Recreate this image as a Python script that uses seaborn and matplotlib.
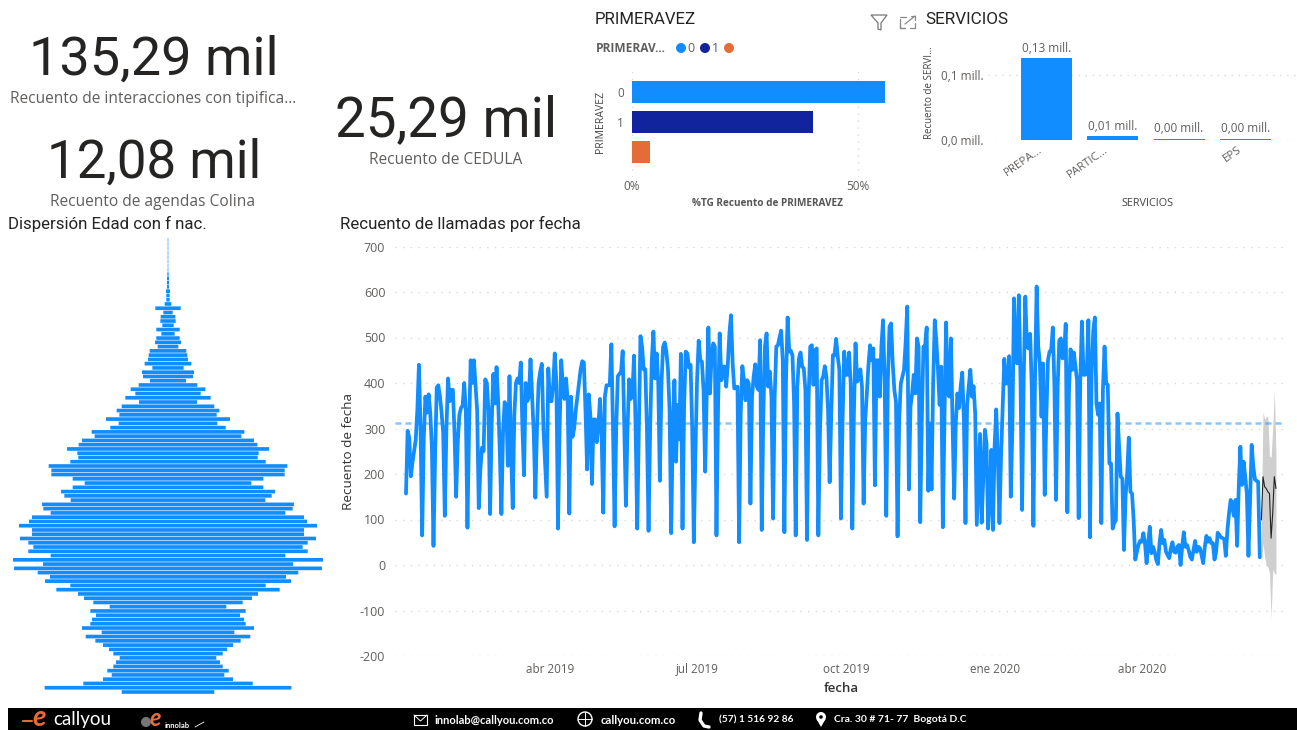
import matplotlib
matplotlib.use("Agg")
import matplotlib.pyplot as plt
from matplotlib.patches import Polygon, Rectangle, Circle
import seaborn as sns
import pandas as pd
import numpy as np

sns.set_theme(style="white")
plt.rcParams['font.family'] = ['Open Sans', 'DejaVu Sans']

W, H = 1297, 730
BLUE, NAVY, ORANGE = '#118DFF', '#12239E', '#E66C37'
DARK, GREY = '#252423', '#605E5C'
HEAD = 'Roboto'

# ---------- data ----------
kpi_interacciones = "135,29 mil"
kpi_agendas = "12,08 mil"
kpi_cedula = "25,29 mil"

primeravez_cat = ['0', '1', ' ']
primeravez_pct = [56.0, 40.0, 4.0]

servicios_cat = ['PREPA...', 'PARTIC...', ' ', 'EPS']
servicios_val = [0.126, 0.006, 0.002, 0.002]
servicios_lbl = ['0,13 mill.', '0,01 mill.', '0,00 mill.', '0,00 mill.']

# half widths of the centred distribution, top row to bottom row
edad_sup = [1, 1, 1, 1, 1, 1, 1, 1, 2, 3, 3, 3, 6, 5, 5, 10, 38, 14, 22, 23, 17, 35, 20, 35, 39, 31,
            55, 58, 60, 70, 47, 78, 75, 54, 88, 112, 98, 128, 87, 139, 154, 146, 186, 148, 173,
            229, 220, 258, 268, 303, 272, 269]
edad_inf = [293, 358, 350, 350, 286, 250, 286, 321, 311, 292, 378, 374, 352, 408, 417, 447, 408, 408,
            444, 419, 404, 419, 352, 465, 375, 462, 391, 354, 369, 293, 335, 270, 252, 224, 175, 233,
            216, 228, 233, 258, 199, 247, 218, 195, 177, 164, 145, 156, 164, 182, 169, 195, 254, 370, 139]
edad_val = edad_sup + edad_inf

llamadas_inicio = [157, 295, 280, 195, 225, 250, 275, 340, 440, 300, 65]
llamadas_2019_a = [
    280,370,335,375,335,260,42, 240,390,395,370,335,290,108, 300,410,360,385,385,290,150,
    270,330,345,350,400,340,82, 300,450,400,450,395,340,125, 210,258,250,408,400,340,112,
    310,420,355,435,360,250,112, 290,358,350,218,415,250,125, 330,400,410,400,445,300,197,
    400,360,370,452,370,290,148, 300,400,425,442,300,225,150, 432,360,360,395,465,400,80,
    300,450,395,365,410,360,113, 370,282,300,340,370,400,430, 448,445,340,210,375,330,178,
    320,320,270,310,365,280,115, 370,395,395,395,485,300,85, 300,415,420,425,470,300,130,
    300,408,365,375,460,300,80, 300,503,480,430,430,300,75, 300,450,513,410,465,400,185,
    400,480,489,470,430,340,70]
llamadas_2019_b = [
    300,406,227,352,276,464,80, 350,469,465,434,440,300,50, 250,406,493,450,447,385,205,
    377,522,377,460,487,480,65, 350,509,406,436,436,392,440, 509,549,443,388,390,392,50,
    333,437,406,362,406,399,135, 370,414,441,392,385,494,77, 333,480,509,392,425,370,102,
    370,480,483,500,515,450,72, 406,544,469,471,461,355,65, 392,454,467,436,432,385,55,
    370,480,483,396,472,476,65, 290,406,414,437,414,341,182, 333,461,461,497,458,429,102,
    319,469,418,418,467,399,80, 333,487,403,410,430,392,135, 319,377,440,483,450,476,175,
    450,450,370,480,538,406,108, 406,524,531,443,385,359,63, 319,399,414,429,490,568,166,
    348,377,418,377,498,480,94, 319,480,480,522,163,311,166, 400,538,490,429,352,436,83,
    319,533,377,370,498,311,146, 311,377,345,392,423,319,92, 350,392,429,370,393,333,88]
llamadas_2020 = [
    190,288,93,190,297,267,80, 150,253,77,260,342,238,92, 240,350,453,399,399,459,150,
    300,586,450,443,593,414,121, 406,590,480,476,508,390,86, 406,612,480,443,326,443,154,
    326,450,469,471,522,392,143, 392,494,498,454,461,530,116, 380,474,429,467,436,406,103,
    406,535,418,418,421,538,61, 421,515,544,355,330,355,92, 385,480,399,396,223,223,80,
    92,99,333,260,194,190,33, 150,201,280,161,157,99,12, 29,44,53,51,70,48,4,
    48,84,26,40,29,11,2, 48,77,48,55,29,22,15, 37,50,29,27,40,44,0,
    40,72,40,44,33,18,12, 33,53,29,40,37,22,4, 40,64,51,59,48,48,12,
    29,71,66,61,59,57,20, 77,114,143,128,108,143,42, 172,260,176,227,194,157,20,
    140,264,216,188,185,183,17]
llamadas_val = llamadas_inicio + llamadas_2019_a + llamadas_2019_b + llamadas_2020
previsto_val = [99, 194, 172, 168, 161, 157, 59, 114, 194, 168]
previsto_sup = [110, 337, 320, 326, 327, 238, 238, 300, 385, 245]
previsto_inf = [0, 48, 18, 0, -4, -18, -117, -10, -18, -20]
promedio = 313
fecha_inicio = '2019-01-02'
meses_ticks = ['2019-04-01', '2019-07-01', '2019-10-01', '2020-01-01', '2020-04-01']
meses_lbl = ['abr 2019', 'jul 2019', 'oct 2019', 'ene 2020', 'abr 2020']

fechas = pd.date_range(fecha_inicio, periods=len(llamadas_val), freq='D')
fechas_prev = pd.date_range(fechas[-1] + pd.Timedelta(days=1), periods=len(previsto_val), freq='D')

# ---------- figure ----------
fig = plt.figure(figsize=(W / 100, H / 100), dpi=100, facecolor='white')

def axpx(l, t, r, b):
    return fig.add_axes([l / W, 1 - b / H, (r - l) / W, (b - t) / H])

ov = fig.add_axes([0, 0, 1, 1], zorder=5)
ov.set_xlim(0, W); ov.set_ylim(H, 0); ov.axis('off'); ov.patch.set_alpha(0)

def T(x, y, s, size=9, color=GREY, ha='center', va='center', family=None, **kw):
    fam = [family, 'DejaVu Sans'] if family else ['Open Sans', 'DejaVu Sans']
    return ov.text(x, y, s, fontsize=size, color=color, ha=ha, va=va, family=fam, **kw)

# KPIs
T(154, 60, kpi_interacciones, 39, DARK, family=HEAD)
T(153, 99, "Recuento de interacciones con tipifica...", 11.2)
T(154, 163, kpi_agendas, 38.2, DARK, family=HEAD)
T(153, 202, "Recuento de agendas Colina", 11.2)
T(446, 121, kpi_cedula, 39.5, DARK, family=HEAD)
T(446, 160, "Recuento de CEDULA", 11.2)

# titles
T(8, 224, "Dispersión Edad con f nac.", 12.15, DARK, ha='left', family=HEAD)
T(340, 224, "Recuento de llamadas por fecha", 12.2, DARK, ha='left', family=HEAD)
T(595, 20, "PRIMERAVEZ", 12.1, DARK, ha='left', family=HEAD)
T(925, 20, "SERVICIOS", 12.3, DARK, ha='left', family=HEAD)

# --- PRIMERAVEZ bar
ax = axpx(632, 70, 900, 177)
df = pd.DataFrame({'cat': primeravez_cat, 'pct': primeravez_pct})
sns.barplot(data=df, y='cat', x='pct', hue='cat', palette=[BLUE, NAVY, ORANGE], legend=False,
            width=0.73, saturation=1, linewidth=0, ax=ax)
ax.set_xlim(0, 268 / 4.52)
ax.set_ylim((177 - 92) / 30, -(92 - 70) / 30)
ax.set_xticks([0, 50])
ax.set_xticklabels(['0%', '50%'], fontsize=8.5, color=GREY)
ax.set_yticks([0, 1]); ax.set_yticklabels(['0', '1'], fontsize=8.5, color=GREY)
ax.tick_params(length=0)
ax.tick_params(axis='x', pad=2)
ax.tick_params(axis='y', pad=6)
ax.set_xlabel(''); ax.set_ylabel('')
sns.despine(ax=ax, left=True, bottom=True, top=True, right=True)
ax.patch.set_alpha(0)
ax.xaxis.grid(True, color='#D9D9D9', lw=1, ls=(0, (1, 4))); ax.set_axisbelow(True)
T(768, 204, "%TG Recuento de PRIMERAVEZ", 7.2, '#555555', weight='bold')
T(601, 122, "PRIMERAVEZ", 7.6, '#444444', rotation=90)
T(596, 48, "PRIMERAV...", 8.6, GREY, ha='left', weight='bold')
for cx, c, lab in zip([681, 705, 729], [BLUE, NAVY, ORANGE], ['0', '1', '']):
    ov.add_patch(Circle((cx, 48), 5, color=c, lw=0))
    T(cx + 6.5, 48, lab, 9, GREY, ha='left')

# funnel + focus icons
ov.add_patch(Polygon([[871, 15], [887, 15], [881, 23], [881, 30], [878, 29], [878, 23]],
                     closed=True, fill=False, ec='#777777', lw=0.9))
ov.plot([900, 900, 905], [19, 28, 28], color='#888888', lw=0.9)
ov.plot([900, 900, 905], [24, 28, 28], color='#888888', lw=0.9)
ov.plot([910, 915, 915], [28, 28, 23], color='#888888', lw=0.9)
ov.plot([905, 915], [24, 16], color='#888888', lw=0.9)
ov.plot([900, 906], [17, 17], color='#888888', lw=0.9)
ov.plot([911, 915, 915], [16, 16, 20], color='#888888', lw=0.9)

# --- SERVICIOS bar
ax = axpx(988, 50, 1297, 140)
df = pd.DataFrame({'cat': servicios_cat, 'val': servicios_val})
sns.barplot(data=df, x='cat', y='val', color=BLUE, saturation=1, width=0.77, linewidth=0, ax=ax)
step = 66.3
ax.set_xlim(-(1046.5 - 988) / step, (1297 - 1046.5) / step)
ax.set_ylim(0, 90 / 650)
ax.set_yticks([0, 0.1]); ax.set_yticklabels(['0,0 mill.', '0,1 mill.'], fontsize=8.5, color=GREY)
ax.set_xticks([])
for i, lab in enumerate(servicios_cat):
    T(1046.5 - 8.5 + step * i, 144, lab, 8.2, GREY, ha='right', va='top', rotation=35,
      rotation_mode='anchor')
ax.tick_params(length=0)
ax.tick_params(axis='y', pad=3)
ax.set_xlabel(''); ax.set_ylabel('')
sns.despine(ax=ax, left=True, bottom=True)
ax.patch.set_alpha(0)
ax.yaxis.grid(True, color='#D9D9D9', lw=1, ls=(0, (1, 4))); ax.set_axisbelow(True)
for i, (v, lab) in enumerate(zip(servicios_val, servicios_lbl)):
    ax.annotate(lab, (i, v), xytext=(0, 2.5), textcoords='offset points', ha='center', va='bottom',
                fontsize=8.5, color=GREY, annotation_clip=False)
T(1147, 204, "SERVICIOS", 7.8, '#444444')
T(930, 93, "Recuento de SERVI...", 7, '#444444', rotation=90)

# --- Edad pyramid
n = len(edad_val)
pitch = (692 - 240) / (n - 1)
ax = axpx(8, 240 - pitch / 2, 328, 692 + pitch / 2)
fila = list(range(n))
df = pd.DataFrame({'fila': fila, 'der': edad_val, 'izq': [-v for v in edad_val]})
sns.barplot(data=df, y='fila', x='der', orient='h', color=BLUE, saturation=1, width=0.86, linewidth=0, ax=ax)
sns.barplot(data=df, y='fila', x='izq', orient='h', color=BLUE, saturation=1, width=0.86, linewidth=0, ax=ax)
for p in ax.patches:
    p.set_snap(False)
ax.set_xlim(-160 * 3, 160 * 3)
ax.set_ylim(n - 0.5, -0.5)
ax.axis('off')

# --- Llamadas line
ax = axpx(395, 246.5, 1284, 656)
df = pd.DataFrame({'fecha': fechas, 'llamadas': llamadas_val})
ax.yaxis.grid(True, color='#D9D9D9', lw=1, ls=(0, (1, 4.5))); ax.set_axisbelow(True)
ax.fill_between(fechas_prev, previsto_inf, previsto_sup, color='#CFCFCF', lw=0, zorder=1.8)
sns.lineplot(data=df, x='fecha', y='llamadas', color=BLUE, lw=2.7, ax=ax, zorder=2.2,
             solid_joinstyle='round')
sns.lineplot(x=fechas_prev, y=previsto_val, color='#222222', lw=0.8, ax=ax, zorder=2.4)
px_dia = 1.617
x0 = pd.Timestamp(fecha_inicio)
ax.set_xlim(x0 - pd.Timedelta(days=11 / px_dia), x0 + pd.Timedelta(days=(1284 - 406) / px_dia))
ax.set_ylim(-200, 700)
ax.axhline(promedio, color=BLUE, alpha=0.5, lw=1.8, ls=(0, (2.4, 1.6)), zorder=2.1, clip_on=False)
ax.set_yticks(range(-200, 701, 100))
ax.set_yticklabels([str(v) for v in range(-200, 701, 100)], fontsize=9, color=GREY)
ax.set_xticks([pd.Timestamp(d) for d in meses_ticks])
ax.set_xticklabels(meses_lbl, fontsize=8.4, color=GREY)
ax.tick_params(length=0)
ax.tick_params(axis='x', pad=5)
ax.tick_params(axis='y', pad=7)
ax.set_xlabel(''); ax.set_ylabel('')
sns.despine(ax=ax, left=True, bottom=True)
ax.patch.set_alpha(0)
T(841, 688, "fecha", 9.5, '#333333', weight=600)
T(348, 451, "Recuento de fecha", 9.7, '#333333', rotation=90)

# --- footer
ov.add_patch(Rectangle((8, 708), W - 8, 22, color='black', lw=0))
ov.plot([23, 32], [721, 721], color=ORANGE, lw=1.5)
T(39, 718, "e", 20, ORANGE, family='Lato', style='italic', weight='bold')
T(53, 720, "callyou", 13.5, 'white', ha='left', family='Lato')
ov.add_patch(Circle((146, 722), 5, color='#777777', lw=0))
T(155, 718, "e", 17, ORANGE, family='Lato', style='italic', weight='bold')
T(165, 725, "innolab", 5.5, 'white', ha='left', family='Lato', weight='bold')
ov.plot([195, 204], [727, 722], color='white', lw=0.6)
fs = dict(color='white', ha='left', family='Lato', weight='bold')
T(434, 720, "innolab@callyou.com.co", 8, **fs)
T(601, 720, "callyou.com.co", 8.2, **fs)
T(719, 720, "(57) 1 516 92 86", 7.3, **fs)
T(834, 720, "Cra. 30 # 71- 77  Bogotá D.C", 7.5, **fs)
ov.add_patch(Rectangle((414, 715), 13, 10, fill=False, ec='white', lw=0.8))
ov.plot([414, 420.5, 427], [715, 721, 715], color='white', lw=0.7)
ov.add_patch(Circle((585, 719), 7, fill=False, ec='white', lw=1))
ov.plot([578, 592], [719, 719], color='white', lw=0.7)
ov.plot([585, 585], [712, 726], color='white', lw=0.7)
ov.plot([701, 700, 704, 709], [713, 720, 726, 727], color='white', lw=2.4)
ov.add_patch(Circle((821, 717), 5, color='white', lw=0))
ov.add_patch(Polygon([[816.5, 719], [825.5, 719], [821, 727]], closed=True, color='white', lw=0))
ov.add_patch(Circle((821, 717), 1.8, color='black', lw=0))

fig.savefig('out.png', dpi=100, facecolor='white')
